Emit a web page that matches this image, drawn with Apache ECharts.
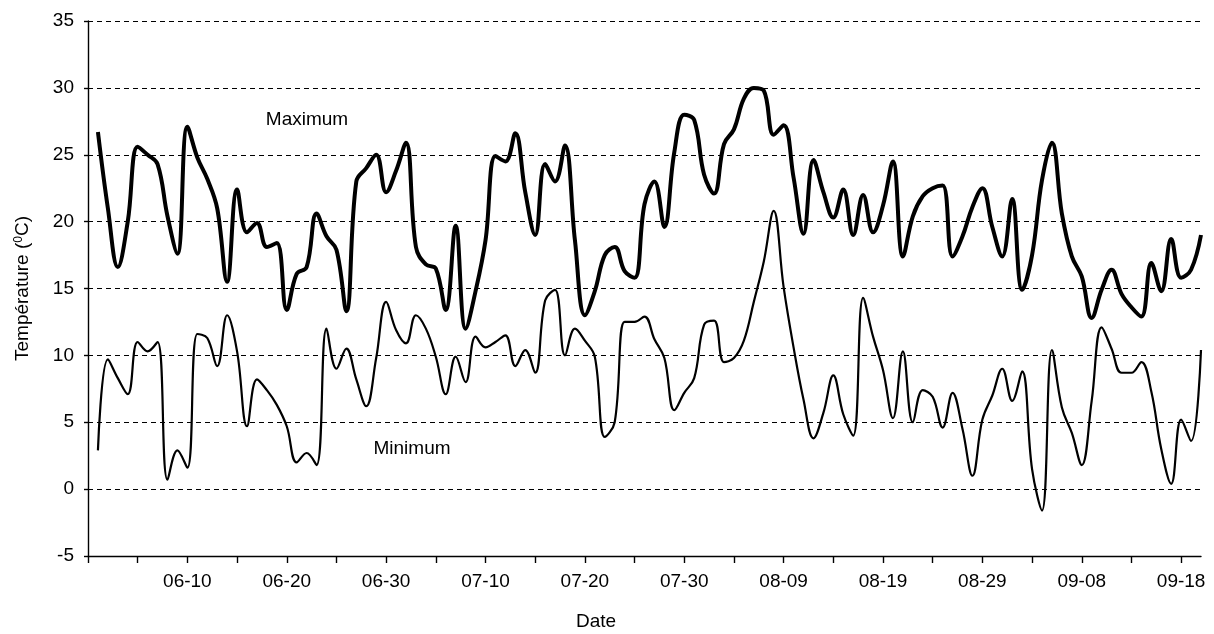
<!DOCTYPE html>
<html>
<head>
<meta charset="utf-8">
<script src="https://cdn.jsdelivr.net/npm/echarts@6/dist/echarts.min.js"></script>
<style>
  html, body { margin: 0; padding: 0; background: #fff; }
  #chart { width: 1214px; height: 634px; }
</style>
</head>
<body>
<div id="chart"></div>
<script>
// Daily air temperature, 1 June to 20 September (°C)
const maxTemp = [
  26.7, 21.0, 16.6, 20.0, 25.6, 25.0, 24.3, 20.4, 17.6, 27.1,
  24.8, 23.2, 21.0, 15.5, 22.4, 19.2, 19.9, 18.1, 18.4, 13.4,
  16.1, 16.6, 20.6, 18.9, 17.9, 13.3, 23.0, 24.0, 25.0, 22.2,
  23.8, 25.9, 18.1, 16.8, 16.5, 13.4, 19.7, 12.0, 14.8, 18.6,
  24.9, 24.5, 26.6, 22.2, 19.0, 24.3, 23.0, 25.7, 18.6, 13.0,
  14.8, 17.5, 18.1, 16.3, 15.8, 21.3, 23.0, 19.6, 25.2, 28.0,
  27.6, 23.5, 22.1, 25.8, 26.9, 29.2, 30.0, 29.8, 26.5, 27.2,
  23.3, 19.1, 24.6, 22.2, 20.3, 22.4, 19.0, 22.0, 19.2, 21.2,
  24.5, 17.4, 20.4, 21.9, 22.5, 22.7, 17.4, 18.9, 21.1, 22.5,
  19.6, 17.4, 21.7, 14.9, 17.5, 23.1, 25.9, 20.6, 17.4, 15.9,
  12.8, 14.9, 16.4, 14.6, 13.6, 12.9, 16.9, 14.8, 18.7, 15.8,
  16.4, 19.0
];
const minTemp = [
  2.9, 9.7, 8.3, 7.1, 11.0, 10.3, 11.0, 0.7, 2.9, 1.6,
  11.6, 11.3, 9.2, 13.0, 10.3, 4.7, 8.2, 7.4, 6.3, 4.7,
  2.0, 2.7, 1.8, 12.0, 9.0, 10.5, 8.2, 6.2, 9.8, 14.0,
  11.9, 10.9, 13.0, 12.0, 9.9, 7.1, 9.9, 8.0, 11.4, 10.6,
  11.0, 11.5, 9.2, 10.4, 8.7, 14.1, 14.9, 10.0, 12.0, 11.1,
  9.9, 3.9, 5.0, 12.5, 12.5, 12.9, 11.2, 9.8, 5.9, 7.2,
  8.3, 12.3, 12.6, 9.5, 9.8, 11.1, 14.0, 17.0, 20.8, 15.1,
  10.6, 6.7, 3.8, 5.7, 8.5, 5.6, 4.0, 14.3, 11.4, 8.9,
  5.3, 10.3, 5.0, 7.4, 6.9, 4.6, 7.2, 4.5, 1.0, 5.2,
  7.0, 9.0, 6.6, 8.8, 1.5, -1.6, 10.4, 6.1, 4.2, 1.8,
  6.6, 12.1, 10.5, 8.7, 8.7, 9.5, 7.3, 3.0, 0.4, 5.2,
  3.6, 10.4
];

// Axis range: the date axis opens on 31 May, the day before the first reading
const startDay = '05-31';
const monthLengths = [['06', 30], ['07', 31], ['08', 31], ['09', 20]];
const dates = [startDay];
for (const [m, n] of monthLengths) {
  for (let d = 1; d <= n; d++) dates.push(m + '-' + String(d).padStart(2, '0'));
}
const yMin = -5, yMax = 35, yStep = 5;
const tickEvery = 5, labelEvery = 10;

const FONT = '"Liberation Sans", Arial, Helvetica, sans-serif';
const textBase = { color: '#000', fontFamily: FONT, fontSize: 19 };
const annotFont = '19px ' + FONT;

const chart = echarts.init(document.getElementById('chart'), null, { renderer: 'canvas' });
chart.setOption({
  animation: false,
  backgroundColor: '#fff',
  grid: { left: 88, top: 21, width: 1113, height: 535, containLabel: false },
  xAxis: {
    type: 'category',
    data: dates,
    boundaryGap: false,
    axisLine: { show: true, onZero: false, lineStyle: { color: '#000', width: 1.4 } },
    axisTick: {
      show: true, length: 7, inside: false,
      interval: tickEvery - 1,
      lineStyle: { color: '#000', width: 1.4 }
    },
    axisLabel: Object.assign({}, textBase, {
      margin: 16,
      interval: (idx) => idx > 0 && idx % labelEvery === 0
    }),
    splitLine: { show: false }
  },
  yAxis: {
    type: 'value',
    min: yMin, max: yMax, interval: yStep,
    axisLine: { show: true, lineStyle: { color: '#000', width: 1.4 } },
    axisTick: { show: true, length: 4, lineStyle: { color: '#000', width: 1.4 } },
    axisLabel: Object.assign({}, textBase, { margin: 14 }),
    splitLine: { show: true, lineStyle: { color: '#000', width: 1.1, type: [5, 4] } },
    name: 'Température ({sup|0}C)',
    nameLocation: 'middle',
    nameRotate: 90,
    nameGap: 56,
    nameTextStyle: Object.assign({}, textBase, {
      rich: {
        sup: { fontFamily: FONT, fontSize: 12, color: '#000', verticalAlign: 'top' }
      }
    })
  },
  series: [
    {
      name: 'Maximum',
      type: 'line',
      data: [null].concat(maxTemp),
      smooth: 0.4,
      showSymbol: false,
      lineStyle: { color: '#000', width: 4 },
      z: 3
    },
    {
      name: 'Minimum',
      type: 'line',
      data: [null].concat(minTemp),
      smooth: 0.4,
      showSymbol: false,
      lineStyle: { color: '#000', width: 2.2 },
      z: 3
    }
  ],
  graphic: [
    { type: 'text', x: 596, y: 622, style: { text: 'Date', textAlign: 'center', textVerticalAlign: 'middle', fill: '#000', font: annotFont } },
    { type: 'text', x: 307, y: 120, style: { text: 'Maximum', textAlign: 'center', textVerticalAlign: 'middle', fill: '#000', font: annotFont } },
    { type: 'text', x: 412, y: 449, style: { text: 'Minimum', textAlign: 'center', textVerticalAlign: 'middle', fill: '#000', font: annotFont } }
  ]
});
</script>
</body>
</html>
